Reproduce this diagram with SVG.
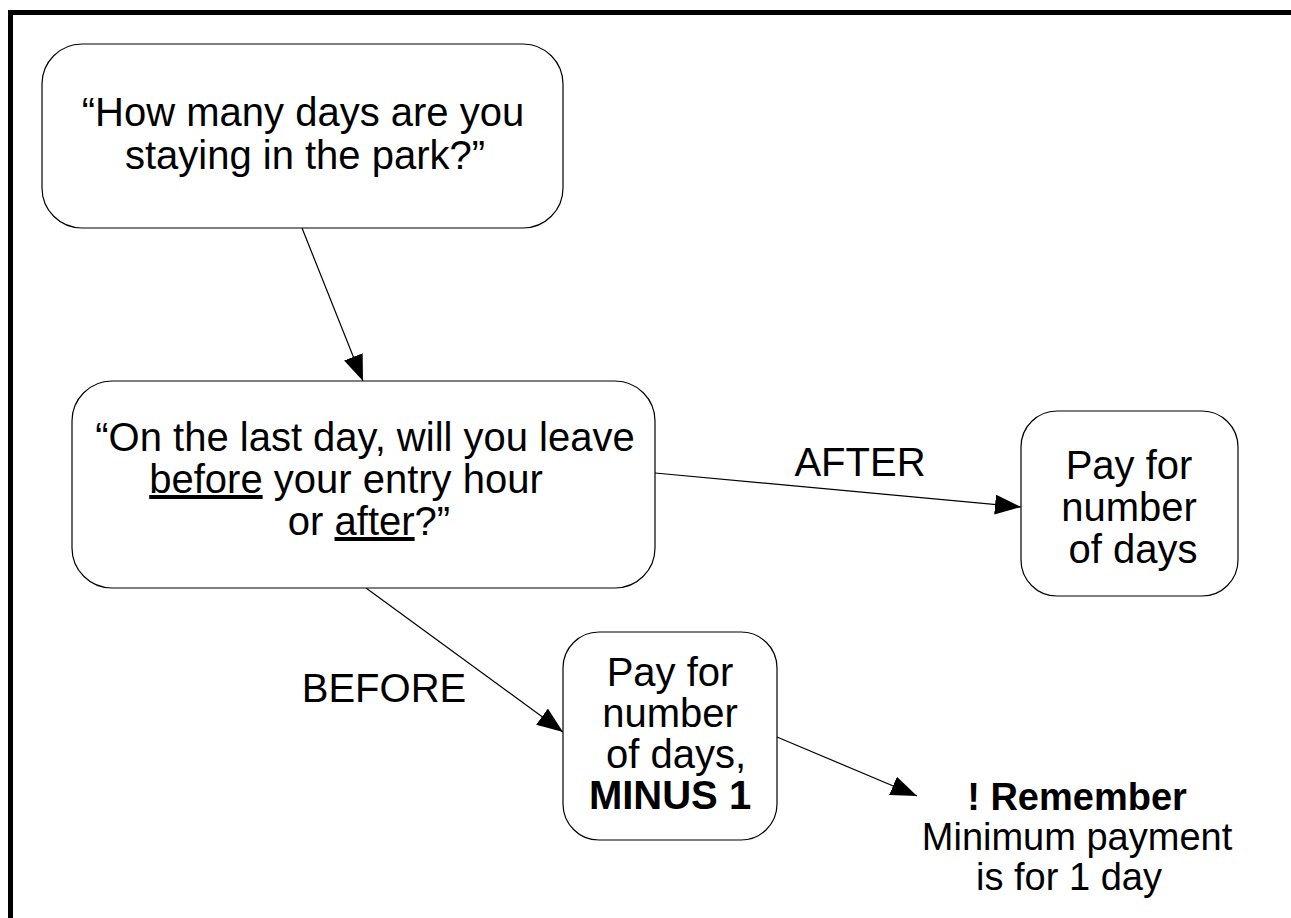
<svg xmlns="http://www.w3.org/2000/svg" width="1291" height="918" viewBox="0 0 1291 918">
<style>
.box{fill:#fff;stroke:#000;stroke-width:1.2}
.t{font-family:"Liberation Sans",Arial,sans-serif;font-size:40px;fill:#000;text-anchor:middle}
.s{font-size:38px}
.b{font-weight:bold}
.u{text-decoration:underline}
.c{stroke:#000;stroke-width:1.2;fill:none;marker-end:url(#ah)}
</style>
<defs>
<marker id="ah" markerWidth="28" markerHeight="22" refX="26" refY="10" orient="auto" markerUnits="userSpaceOnUse">
<path d="M0,0 L26,10 L0,20 Z" fill="#000"/>
</marker>
</defs>
<rect width="1291" height="918" fill="#fff"/>
<path d="M10.5,918 V12.5 H1291" fill="none" stroke="#000" stroke-width="5"/>
<g id="connectors">
<line class="c" x1="302" y1="228" x2="363" y2="381"/>
<line class="c" x1="655" y1="473" x2="1021" y2="507"/>
<line class="c" x1="366" y1="588" x2="563" y2="732"/>
<line class="c" x1="777" y1="737" x2="917" y2="796"/>
<text class="t" x="860" y="476">AFTER</text>
<text class="t" x="384" y="702">BEFORE</text>
</g>
<g id="n1">
<rect class="box" x="42" y="44" width="521" height="184" rx="40"/>
<text class="t" x="303" y="126">“How many days are you</text>
<text class="t" x="305" y="169">staying in the park?”</text>
</g>
<g id="n2">
<rect class="box" x="72" y="381" width="583" height="207" rx="40"/>
<text class="t" x="365" y="451">“On the last day, will you leave</text>
<text class="t" x="346" y="493"><tspan class="u">before</tspan> your entry hour</text>
<text class="t" x="369" y="535">or <tspan class="u">after</tspan>?”</text>
</g>
<g id="n3">
<rect class="box" x="1021" y="411" width="217" height="185" rx="36"/>
<text class="t" x="1129" y="479">Pay for</text>
<text class="t" x="1129" y="521">number</text>
<text class="t" x="1133" y="563">of days</text>
</g>
<g id="n4">
<rect class="box" x="563" y="632" width="214" height="208" rx="36"/>
<text class="t" x="670" y="686">Pay for</text>
<text class="t" x="670" y="727">number</text>
<text class="t" x="676" y="768">of days,</text>
<text class="t b" x="670" y="809">MINUS 1</text>
</g>
<g id="n5">
<text class="t s b" x="1077" y="810">! Remember</text>
<text class="t s" x="1077" y="850">Minimum payment</text>
<text class="t s" x="1069" y="890">is for 1 day</text>
</g>
</svg>
